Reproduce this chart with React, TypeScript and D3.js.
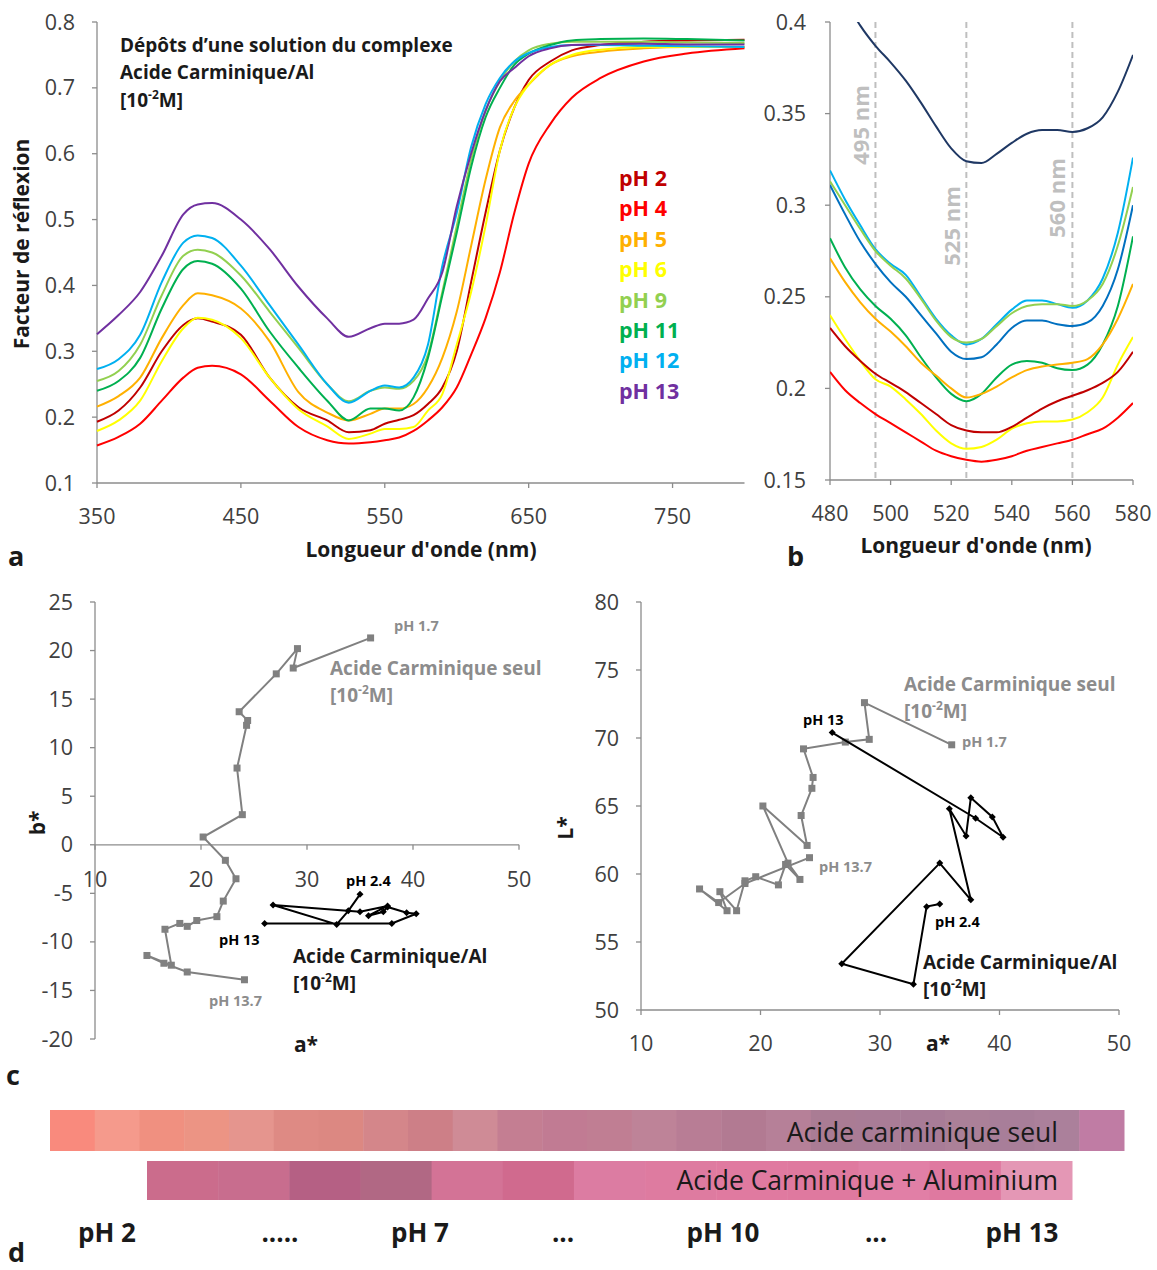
import React from "react";
import * as d3 from "d3";

// ---------- Panel a data ----------
const WL_A = [350,365,380,395,410,420,430,450,470,490,510,525,540,550,560,570,580,590,600,610,620,630,640,650,665,680,700,730,760,800];
const PH_A = ["pH 2","pH 4","pH 5","pH 6","pH 9","pH 11","pH 12","pH 13"];
const COL_A = ["#C00000","#FF0000","#FFB000","#FFFF00","#92D050","#00B050","#00B0F0","#7030A0"];
const R_PH2 = [.193,.21,.245,.30,.34,.35,.345,.325,.26,.215,.195,.177,.18,.19,.196,.203,.22,.245,.30,.405,.51,.605,.67,.712,.74,.757,.765,.77,.772,.773];
const R_PH4 = [.157,.17,.19,.225,.26,.275,.278,.265,.225,.185,.165,.16,.162,.165,.169,.179,.195,.215,.245,.295,.35,.42,.51,.585,.645,.685,.715,.74,.752,.76];
const R_PH5 = [.216,.232,.26,.32,.37,.388,.385,.365,.315,.238,.207,.195,.205,.213,.213,.22,.245,.29,.36,.46,.56,.64,.68,.705,.735,.748,.755,.76,.762,.762];
const R_PH6 = [.179,.195,.225,.285,.335,.351,.348,.32,.26,.212,.186,.167,.175,.182,.182,.185,.21,.235,.31,.39,.49,.605,.67,.705,.735,.75,.758,.762,.762,.762];
const R_PH9 = [.255,.27,.31,.385,.445,.454,.45,.415,.36,.305,.25,.224,.24,.245,.243,.255,.295,.39,.49,.59,.665,.71,.74,.757,.767,.77,.77,.77,.769,.768];
const R_PH11 = [.240,.255,.29,.365,.425,.437,.433,.395,.33,.275,.225,.195,.213,.213,.21,.23,.29,.385,.48,.58,.655,.70,.735,.752,.765,.772,.774,.775,.774,.772];
const R_PH12 = [.273,.288,.325,.405,.465,.476,.472,.43,.37,.31,.25,.222,.24,.248,.245,.26,.31,.43,.51,.61,.675,.715,.74,.753,.762,.765,.765,.764,.763,.762];
const R_PH13 = [.326,.355,.39,.445,.508,.523,.525,.50,.455,.398,.35,.322,.335,.342,.342,.348,.38,.42,.52,.60,.665,.71,.73,.748,.76,.765,.766,.767,.766,.766];
const SERIES_A = [R_PH2,R_PH4,R_PH5,R_PH6,R_PH9,R_PH11,R_PH12,R_PH13];
const TICKS_AY = [0.1,0.2,0.3,0.4,0.5,0.6,0.7,0.8];
const TICKS_AX = [350,450,550,650,750];

// ---------- Panel b data ----------
const WL_B = [480,485,490,495,500,505,510,515,520,525,530,535,540,545,550,555,560,565,570,575,580];
const COL_B = ["#1F3864","#00B0F0","#92D050","#0070C0","#00B050","#FFB000","#FFFF00","#C00000","#FF0000"];
const B_NAVY = [.425,.412,.398,.387,.378,.368,.356,.343,.331,.324,.323,.328,.334,.339,.341,.341,.340,.342,.348,.362,.382];
const B_CYAN = [.319,.303,.289,.276,.268,.262,.25,.238,.229,.224,.227,.235,.243,.248,.248,.246,.244,.248,.26,.285,.326];
const B_LGREEN = [.313,.3,.287,.275,.267,.26,.249,.237,.228,.225,.227,.234,.241,.245,.246,.246,.245,.248,.257,.278,.31];
const B_BLUE = [.311,.295,.28,.268,.258,.25,.24,.23,.22,.216,.217,.224,.233,.237,.237,.235,.234,.236,.245,.265,.30];
const B_GREEN = [.282,.266,.254,.245,.238,.229,.217,.206,.197,.193,.197,.206,.213,.215,.214,.211,.21,.213,.224,.245,.283];
const B_ORANGE = [.271,.258,.247,.238,.231,.223,.214,.207,.2,.195,.197,.201,.206,.21,.212,.213,.214,.216,.224,.238,.257];
const B_YELLOW = [.24,.227,.215,.205,.201,.194,.186,.177,.17,.167,.168,.172,.178,.181,.182,.182,.183,.187,.195,.213,.228];
const B_DRED = [.233,.223,.215,.208,.203,.198,.192,.186,.18,.177,.176,.176,.179,.184,.189,.193,.196,.199,.203,.209,.22];
const B_RED = [.209,.199,.192,.186,.181,.176,.171,.166,.163,.161,.16,.161,.163,.166,.168,.17,.172,.175,.178,.184,.192];
const SERIES_B = [B_NAVY,B_CYAN,B_LGREEN,B_BLUE,B_GREEN,B_ORANGE,B_YELLOW,B_DRED,B_RED];
const TICKS_BY = [0.15,0.2,0.25,0.3,0.35,0.4];
const TICKS_BX = [480,500,520,540,560,580];
const MARK_B = [495,525,560];

// ---------- Panel c data ----------
const SEUL_A = [36.0,28.7,29.1,27.1,23.6,24.4,24.3,23.4,23.9,20.2,22.3,23.3,22.1,21.5,19.6,18.7,18.0,16.6,17.2,14.9,16.5,18.7,24.1];
const SEUL_B = [21.3,18.2,20.2,17.6,13.7,12.8,12.3,7.9,3.1,0.8,-1.6,-3.5,-5.8,-7.4,-7.8,-8.4,-8.1,-8.7,-12.4,-11.4,-12.2,-13.1,-13.9];
const SEUL_L = [69.5,72.6,69.9,69.7,69.2,67.1,66.3,64.3,62.1,65.0,60.8,59.6,60.7,59.2,59.8,59.5,57.3,58.7,57.3,58.9,57.9,59.3,61.2];
const AL_A = [35.0,33.9,32.8,26.8,35.0,37.6,35.8,37.2,37.6,39.4,40.3,38.0,26.0];
const AL_B = [-5.1,-6.8,-8.2,-6.2,-6.9,-6.3,-7.3,-6.9,-6.4,-7.0,-7.1,-8.1,-8.1];
const AL_L = [57.8,57.6,51.9,53.4,60.8,58.1,64.8,62.8,65.6,64.2,62.7,64.1,70.4];
const TICKS_CB = [-20,-15,-10,-5,0,5,10,15,20,25];
const TICKS_CL = [50,55,60,65,70,75,80];
const TICKS_CA = [10,20,30,40,50];

// ---------- Panel d data ----------
const STRIP_SEUL = ["#F98A7D","#F59A8C","#F09080","#EC9484","#E5958E","#DE8A84","#DC8882","#D4868A","#CD7F87","#CF8B96","#C47E92","#C17B93","#C07E93","#BE8398","#B87D95","#B27A92","#B68098","#AA7C94","#A97C96","#A87C97","#AB8098","#A87E99","#AB809B","#C07CA4"];
const STRIP_AL = ["#CB6C8C","#C86D8E","#B56084","#B16884","#D37396","#D06A8E","#DC7CA2","#DE7BA0","#E07AA0","#DF799F","#E17FA6","#DF79A0","#E497B5"];
const PH_LABELS_D = ["pH 2",".....","pH 7","...","pH 10","...","pH 13"];
const PH_LABELS_D_POS = [107,280,420,563,723,876,1022];

const FONT = "'Open Sans', Lato, sans-serif";
const AXIS = "#8c8c8c";
const TXT = "#404040";
const TK = 21.5;

function App() {
  const xa = d3.scaleLinear().domain([350, 800]).range([97, 744.5]);
  const ya = d3.scaleLinear().domain([0.1, 0.8]).range([483, 22]);
  const lineA = (vals: number[]) =>
    d3.line<number>().x((_, i) => xa(WL_A[i])).y((v) => ya(v)).curve(d3.curveMonotoneX)(vals) || "";

  const xb = d3.scaleLinear().domain([480, 580]).range([830, 1133]);
  const yb = d3.scaleLinear().domain([0.15, 0.4]).range([480, 22]);
  const lineB = (vals: number[]) =>
    d3.line<number>().x((_, i) => xb(WL_B[i])).y((v) => yb(v)).curve(d3.curveMonotoneX)(vals) || "";

  const xc1 = d3.scaleLinear().domain([10, 50]).range([95, 519]);
  const yc1 = d3.scaleLinear().domain([-20, 25]).range([1039, 602]);
  const xc2 = d3.scaleLinear().domain([10, 50]).range([641, 1119]);
  const yc2 = d3.scaleLinear().domain([50, 80]).range([1010, 602]);

  const pathXY = (xs: number[], ys: number[], sx: any, sy: any) =>
    d3.line<number>().x((_, i) => sx(xs[i])).y((_, i) => sy(ys[i]))(xs) || "";

  const square = (x: number, y: number, k: string) => (
    <rect key={k} x={x - 3.5} y={y - 3.5} width={7} height={7} fill="#808080" />
  );
  const diamond = (x: number, y: number, k: string) => (
    <path key={k} d={`M${x},${y - 3.5}L${x + 3.5},${y}L${x},${y + 3.5}L${x - 3.5},${y}Z`} fill="#000" />
  );

  const xStripTop = d3.scaleBand<number>().domain(d3.range(STRIP_SEUL.length)).range([50, 1124]);
  const xStripBot = d3.scaleBand<number>().domain(d3.range(STRIP_AL.length)).range([147, 1072]);

  const conc = (x: number, y: number) => (
    <>
      <tspan x={x} y={y}>[10</tspan>
      <tspan dy={-8} fontSize={12}>-2</tspan>
      <tspan dy={8}>M]</tspan>
    </>
  );

  return (
    <svg width={1157} height={1270} style={{ display: "block", position: "absolute", left: 0, top: 0 }} fontFamily={FONT}>
      <rect width={1157} height={1270} fill="#fff" />
      <defs>
        <clipPath id="clipB"><rect x={830} y={22} width={303} height={458} /></clipPath>
      </defs>

      {/* ---------------- Panel a ---------------- */}
      <g>
        <line x1={97} x2={97} y1={22} y2={483} stroke={AXIS} strokeWidth={1.3} />
        <line x1={97} x2={744.5} y1={483} y2={483} stroke={AXIS} strokeWidth={1.3} />
        {TICKS_AY.map((t) => (
          <g key={"ay" + t}>
            <line x1={92} x2={97} y1={ya(t)} y2={ya(t)} stroke={AXIS} strokeWidth={1.3} />
            <text x={75} y={ya(t)} dy="0.35em" textAnchor="end" fontSize={TK} fill={TXT}>{t.toFixed(1)}</text>
          </g>
        ))}
        {TICKS_AX.map((t) => (
          <g key={"ax" + t}>
            <line x1={xa(t)} x2={xa(t)} y1={483} y2={488} stroke={AXIS} strokeWidth={1.3} />
            <text x={xa(t)} y={524} textAnchor="middle" fontSize={TK} fill={TXT}>{t}</text>
          </g>
        ))}
        {SERIES_A.map((s, i) => (
          <path key={"sa" + i} d={lineA(s)} fill="none" stroke={COL_A[i]} strokeWidth={2} />
        ))}
        <text x={421} y={557} textAnchor="middle" fontSize={21} fontWeight="bold" fill="#1a1a1a">Longueur d'onde (nm)</text>
        <text transform="translate(29,244) rotate(-90)" textAnchor="middle" fontSize={21} fontWeight="bold" fill="#1a1a1a">Facteur de réflexion</text>
        <text fontSize={19} fontWeight="bold" fill="#1a1a1a">
          <tspan x={120} y={52}>Dépôts d’une solution du complexe</tspan>
          <tspan x={120} y={79}>Acide Carminique/Al</tspan>
          {conc(120, 107)}
        </text>
        {PH_A.map((p, i) => (
          <text key={"lg" + i} x={619} y={186 + i * 30.4} fontSize={21.5} fontWeight="bold" fill={COL_A[i]}>{p}</text>
        ))}
        <text x={8} y={566} fontSize={27} fontWeight="bold" fill="#1a1a1a">a</text>
      </g>

      {/* ---------------- Panel b ---------------- */}
      <g>
        {MARK_B.map((m) => (
          <line key={"mk" + m} x1={xb(m)} x2={xb(m)} y1={22} y2={480} stroke="#bfbfbf" strokeWidth={2} strokeDasharray="6,4" />
        ))}
        <line x1={830} x2={830} y1={22} y2={480} stroke={AXIS} strokeWidth={1.3} />
        <line x1={830} x2={1133} y1={480} y2={480} stroke={AXIS} strokeWidth={1.3} />
        {TICKS_BY.map((t) => (
          <g key={"by" + t}>
            <line x1={825} x2={830} y1={yb(t)} y2={yb(t)} stroke={AXIS} strokeWidth={1.3} />
            <text x={806} y={yb(t)} dy="0.35em" textAnchor="end" fontSize={TK} fill={TXT}>{String(t)}</text>
          </g>
        ))}
        {TICKS_BX.map((t) => (
          <g key={"bx" + t}>
            <line x1={xb(t)} x2={xb(t)} y1={480} y2={485} stroke={AXIS} strokeWidth={1.3} />
            <text x={xb(t)} y={521} textAnchor="middle" fontSize={TK} fill={TXT}>{t}</text>
          </g>
        ))}
        <g clipPath="url(#clipB)">
          {SERIES_B.map((s, i) => (
            <path key={"sb" + i} d={lineB(s)} fill="none" stroke={COL_B[i]} strokeWidth={2} />
          ))}
        </g>
        <text transform={`translate(869,125) rotate(-90)`} textAnchor="middle" fontSize={22} fontWeight="bold" fill="#bfbfbf">495 nm</text>
        <text transform={`translate(960,226) rotate(-90)`} textAnchor="middle" fontSize={22} fontWeight="bold" fill="#bfbfbf">525 nm</text>
        <text transform={`translate(1065,198) rotate(-90)`} textAnchor="middle" fontSize={22} fontWeight="bold" fill="#bfbfbf">560 nm</text>
        <text x={976} y={553} textAnchor="middle" fontSize={21} fontWeight="bold" fill="#1a1a1a">Longueur d'onde (nm)</text>
        <text x={787} y={566} fontSize={27} fontWeight="bold" fill="#1a1a1a">b</text>
      </g>

      {/* ---------------- Panel c left ---------------- */}
      <g>
        <line x1={95} x2={95} y1={602} y2={1039} stroke={AXIS} strokeWidth={1.3} />
        <line x1={95} x2={519} y1={yc1(0)} y2={yc1(0)} stroke={AXIS} strokeWidth={1.3} />
        {TICKS_CB.map((t) => (
          <g key={"cb" + t}>
            <line x1={90} x2={95} y1={yc1(t)} y2={yc1(t)} stroke={AXIS} strokeWidth={1.3} />
            <text x={73} y={yc1(t)} dy="0.35em" textAnchor="end" fontSize={TK} fill={TXT}>{t}</text>
          </g>
        ))}
        {TICKS_CA.map((t) => (
          <g key={"ca" + t}>
            <line x1={xc1(t)} x2={xc1(t)} y1={yc1(0)} y2={yc1(0) + 5} stroke={AXIS} strokeWidth={1.3} />
            <text x={xc1(t)} y={887} textAnchor="middle" fontSize={TK} fill={TXT}>{t}</text>
          </g>
        ))}
        <path d={pathXY(SEUL_A, SEUL_B, xc1, yc1)} fill="none" stroke="#808080" strokeWidth={2} />
        {SEUL_A.map((a, i) => square(xc1(a), yc1(SEUL_B[i]), "s1" + i))}
        <path d={pathXY(AL_A, AL_B, xc1, yc1)} fill="none" stroke="#000" strokeWidth={2} />
        {AL_A.map((a, i) => diamond(xc1(a), yc1(AL_B[i]), "d1" + i))}
        <text transform="translate(45,823) rotate(-90)" textAnchor="middle" fontSize={21} fontWeight="bold" fill="#1a1a1a">b*</text>
        <text x={306} y={1052} textAnchor="middle" fontSize={21} fontWeight="bold" fill="#1a1a1a">a*</text>
        <text x={394} y={631} fontSize={14.5} fontWeight="bold" fill="#8c8c8c">pH 1.7</text>
        <text fontSize={19} fontWeight="bold" fill="#8c8c8c">
          <tspan x={330} y={675}>Acide Carminique seul</tspan>
          {conc(330, 702)}
        </text>
        <text x={346} y={886} fontSize={14.5} fontWeight="bold" fill="#000">pH 2.4</text>
        <text x={219} y={945} fontSize={14.5} fontWeight="bold" fill="#000">pH 13</text>
        <text fontSize={19} fontWeight="bold" fill="#1a1a1a">
          <tspan x={293} y={963}>Acide Carminique/Al</tspan>
          {conc(293, 990)}
        </text>
        <text x={209} y={1006} fontSize={14.5} fontWeight="bold" fill="#8c8c8c">pH 13.7</text>
        <text x={6} y={1085} fontSize={27} fontWeight="bold" fill="#1a1a1a">c</text>
      </g>

      {/* ---------------- Panel c right ---------------- */}
      <g>
        <line x1={641} x2={641} y1={602} y2={1010} stroke={AXIS} strokeWidth={1.3} />
        <line x1={641} x2={1119} y1={1010} y2={1010} stroke={AXIS} strokeWidth={1.3} />
        {TICKS_CL.map((t) => (
          <g key={"cl" + t}>
            <line x1={636} x2={641} y1={yc2(t)} y2={yc2(t)} stroke={AXIS} strokeWidth={1.3} />
            <text x={619} y={yc2(t)} dy="0.35em" textAnchor="end" fontSize={TK} fill={TXT}>{t}</text>
          </g>
        ))}
        {TICKS_CA.map((t) => (
          <g key={"ca2" + t}>
            <line x1={xc2(t)} x2={xc2(t)} y1={1010} y2={1015} stroke={AXIS} strokeWidth={1.3} />
            <text x={xc2(t)} y={1051} textAnchor="middle" fontSize={TK} fill={TXT}>{t}</text>
          </g>
        ))}
        <path d={pathXY(SEUL_A, SEUL_L, xc2, yc2)} fill="none" stroke="#808080" strokeWidth={2} />
        {SEUL_A.map((a, i) => square(xc2(a), yc2(SEUL_L[i]), "s2" + i))}
        <path d={pathXY(AL_A, AL_L, xc2, yc2)} fill="none" stroke="#000" strokeWidth={2} />
        {AL_A.map((a, i) => diamond(xc2(a), yc2(AL_L[i]), "d2" + i))}
        <text transform="translate(573,828) rotate(-90)" textAnchor="middle" fontSize={21} fontWeight="bold" fill="#1a1a1a">L*</text>
        <text x={938} y={1051} textAnchor="middle" fontSize={21} fontWeight="bold" fill="#1a1a1a">a*</text>
        <text fontSize={19} fontWeight="bold" fill="#8c8c8c">
          <tspan x={904} y={691}>Acide Carminique seul</tspan>
          {conc(904, 718)}
        </text>
        <text x={803} y={725} fontSize={14.5} fontWeight="bold" fill="#000">pH 13</text>
        <text x={962} y={747} fontSize={14.5} fontWeight="bold" fill="#8c8c8c">pH 1.7</text>
        <text x={819} y={872} fontSize={14.5} fontWeight="bold" fill="#8c8c8c">pH 13.7</text>
        <text x={935} y={927} fontSize={14.5} fontWeight="bold" fill="#000">pH 2.4</text>
        <text fontSize={19} fontWeight="bold" fill="#1a1a1a">
          <tspan x={923} y={969}>Acide Carminique/Al</tspan>
          {conc(923, 996)}
        </text>
      </g>

      {/* ---------------- Panel d ---------------- */}
      <g>
        {STRIP_SEUL.map((c, i) => (
          <rect key={"ts" + i} x={xStripTop(i)} y={1110} width={xStripTop.bandwidth() + 0.5} height={41} fill={c} />
        ))}
        {STRIP_AL.map((c, i) => (
          <rect key={"bs" + i} x={xStripBot(i)} y={1161} width={xStripBot.bandwidth() + 0.5} height={39} fill={c} />
        ))}
        <text x={1058} y={1142} textAnchor="end" fontSize={26.5} fill="#1a1a1a">Acide carminique seul</text>
        <text x={1058} y={1190} textAnchor="end" fontSize={26.5} fill="#1a1a1a">Acide Carminique + Aluminium</text>
        {PH_LABELS_D.map((p, i) => (
          <text key={"pd" + i} x={PH_LABELS_D_POS[i]} y={1242} textAnchor="middle" fontSize={26} fontWeight="bold" fill="#1a1a1a">{p}</text>
        ))}
        <text x={8} y={1262} fontSize={27} fontWeight="bold" fill="#1a1a1a">d</text>
      </g>
    </svg>
  );
}

export default App;
